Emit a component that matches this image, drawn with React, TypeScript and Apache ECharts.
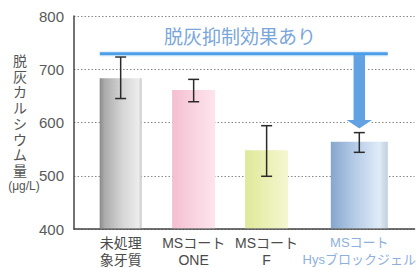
import React, { useEffect, useRef } from "react";
import * as echarts from "echarts";

// ---- data ----
const categories = ["未処理\n象牙質", "MSコート\nONE", "MSコート\nF", "MSコート\nHysブロックジェル"];
const means = [683, 661, 548, 564];
const errLow = [645, 639, 499, 544];
const errHigh = [723, 681, 594, 581];
const yMin = 400;
const yMax = 800;
const yStep = 100;
const yName = "脱灰カルシウム量";
const yUnit = "(μg/L)";
const annotationText = "脱灰抑制効果あり";
const annotationLevel = 729; // level of the horizontal reference line
const arrowHeadStart = 606;
const arrowTip = 587;

// ---- layout (axis units, not data) ----
const SLOT = [1, 2, 3, 4.27];
const X_MIN = 0.3605;
const X_MAX = 5.027;
const LINE_FROM = 0.714;
const LINE_TO = 4.66;
const BAR_WIDTHS = [42, 43, 43, 57];

const FONT = "'Liberation Sans', 'Noto Sans CJK JP', sans-serif";
const CJK = "'Noto Sans CJK JP', sans-serif";

const GRADS = [
  [
    { offset: 0, color: "#8a8a8a" },
    { offset: 0.12, color: "#acacac" },
    { offset: 0.55, color: "#d6d6d6" },
    { offset: 0.93, color: "#ececec" },
    { offset: 1, color: "#c4c4c4" },
  ],
  [
    { offset: 0, color: "#f4bed0" },
    { offset: 0.5, color: "#f9d3e0" },
    { offset: 1, color: "#fde4ed" },
  ],
  [
    { offset: 0, color: "#dfe89a" },
    { offset: 0.5, color: "#eaf0b4" },
    { offset: 1, color: "#f4f7d2" },
  ],
  [
    { offset: 0, color: "#86a6cc" },
    { offset: 0.35, color: "#aec6e4" },
    { offset: 0.85, color: "#e0ebf8" },
    { offset: 1, color: "#c2cedc" },
  ],
];

export default function App() {
  const ref = useRef<HTMLDivElement>(null);

  useEffect(() => {
    const chart = echarts.init(ref.current!, null, { renderer: "svg" });

    const barData = SLOT.map((x, i) => [x, means[i]]);
    const errData = SLOT.map((x, i) => [x, errLow[i], errHigh[i]]);

    const nameChars = Array.from(yName).map((ch, i) => ({
      type: "text",
      x: 20,
      y: 60 + i * 15.7,
      style: {
        text: ch,
        fontFamily: CJK,
        fontSize: 14,
        fill: "#555",
        align: "center",
        verticalAlign: "middle",
      },
    }));

    const option: any = {
      animation: false,
      grid: { left: 74, right: 2, top: 16, bottom: 38 },
      xAxis: {
        type: "value",
        min: X_MIN,
        max: X_MAX,
        splitLine: { show: false },
        axisTick: { show: false },
        axisLine: { show: true, onZero: false, lineStyle: { color: "#444", width: 1.5 } },
        axisLabel: {
          customValues: SLOT,
          margin: 5,
          fontFamily: FONT,
          fontSize: 14,
          lineHeight: 17,
          color: "#4a4a4a",
          formatter: (v: number) => {
            const i = SLOT.findIndex((s) => Math.abs(s - v) < 1e-6);
            if (i < 0) return "";
            const lines = categories[i].split("\n");
            if (i === 3) return lines.map((l) => `{b|${l}}`).join("\n");
            return categories[i];
          },
          rich: {
            b: { color: "#8fb0dc", fontFamily: FONT, fontSize: 13, lineHeight: 17 },
          },
        },
      },
      yAxis: {
        type: "value",
        min: yMin,
        max: yMax,
        interval: yStep,
        axisLine: { show: true, lineStyle: { color: "#444", width: 1.5 } },
        axisTick: { show: false },
        axisLabel: { fontFamily: FONT, fontSize: 15, color: "#5a5a5a", margin: 10 },
        splitLine: { show: true, lineStyle: { color: "#888", type: [1.5, 2], width: 1 } },
      },
      graphic: [
        ...nameChars,
        {
          type: "text",
          x: 24,
          y: 186,
          style: {
            text: yUnit,
            fontFamily: FONT,
            fontSize: 12,
            fill: "#555",
            align: "center",
            verticalAlign: "middle",
          },
        },
        {
          type: "text",
          x: 240,
          y: 35,
          style: {
            text: annotationText,
            fontFamily: CJK,
            fontSize: 19,
            fill: "#7aa6da",
            align: "center",
            verticalAlign: "middle",
          },
        },
      ],
      series: [
        {
          type: "custom",
          name: "bars",
          data: barData,
          z: 2,
          renderItem: (params: any, api: any) => {
            const i = params.dataIndex;
            const x = api.value(0);
            const v = api.value(1);
            const top = api.coord([x, v]);
            const base = api.coord([x, yMin]);
            const w = BAR_WIDTHS[i];
            return {
              type: "rect",
              shape: { x: top[0] - w / 2, y: top[1], width: w, height: base[1] - top[1] - 0.75 },
              style: { fill: new echarts.graphic.LinearGradient(0, 0, 1, 0, GRADS[i]) },
            };
          },
        },
        {
          type: "custom",
          name: "errors",
          data: errData,
          z: 3,
          renderItem: (params: any, api: any) => {
            const x = api.value(0);
            const lo = api.coord([x, api.value(1)]);
            const hi = api.coord([x, api.value(2)]);
            const cap = 5.5;
            const style = { stroke: "#2a2a2a", lineWidth: 1.5 };
            return {
              type: "group",
              children: [
                { type: "line", shape: { x1: lo[0], y1: lo[1], x2: hi[0], y2: hi[1] }, style },
                { type: "line", shape: { x1: lo[0] - cap, y1: lo[1], x2: lo[0] + cap, y2: lo[1] }, style },
                { type: "line", shape: { x1: hi[0] - cap, y1: hi[1], x2: hi[0] + cap, y2: hi[1] }, style },
              ],
            };
          },
        },
        {
          type: "custom",
          name: "annotation",
          data: [[SLOT[3], annotationLevel, arrowHeadStart, arrowTip]],
          z: 4,
          clip: false,
          renderItem: (params: any, api: any) => {
            const cx = api.value(0);
            const top = api.coord([cx, api.value(1)]);
            const head = api.coord([cx, api.value(2)]);
            const tip = api.coord([cx, api.value(3)]);
            const l1 = api.coord([LINE_FROM, api.value(1)]);
            const l2 = api.coord([LINE_TO, api.value(1)]);
            const hw = 6.5;
            const hh = 15;
            const c = top[0];
            return {
              type: "group",
              children: [
                {
                  type: "polygon",
                  shape: {
                    points: [
                      [c - hw, top[1]],
                      [c + hw, top[1]],
                      [c + hw, head[1]],
                      [c + hh, head[1]],
                      [c, tip[1]],
                      [c - hh, head[1]],
                      [c - hw, head[1]],
                    ],
                  },
                  style: { fill: "#62a2e2", stroke: "#ffffff", lineWidth: 1.5 },
                },
                {
                  type: "rect",
                  shape: { x: l1[0], y: l1[1] - 3, width: l2[0] - l1[0], height: 6 },
                  style: { fill: "rgba(120,180,240,0.18)" },
                },
                {
                  type: "rect",
                  shape: { x: l1[0], y: l1[1] - 1.5, width: l2[0] - l1[0], height: 3 },
                  style: { fill: "#4a9fe8" },
                },
              ],
            };
          },
        },
      ],
    };

    chart.setOption(option);
    return () => chart.dispose();
  }, []);

  return (
    <div style={{ position: "fixed", left: 0, top: 0, width: 419, height: 268, background: "#fff" }}>
      <div ref={ref} style={{ width: 419, height: 268 }} />
    </div>
  );
}
